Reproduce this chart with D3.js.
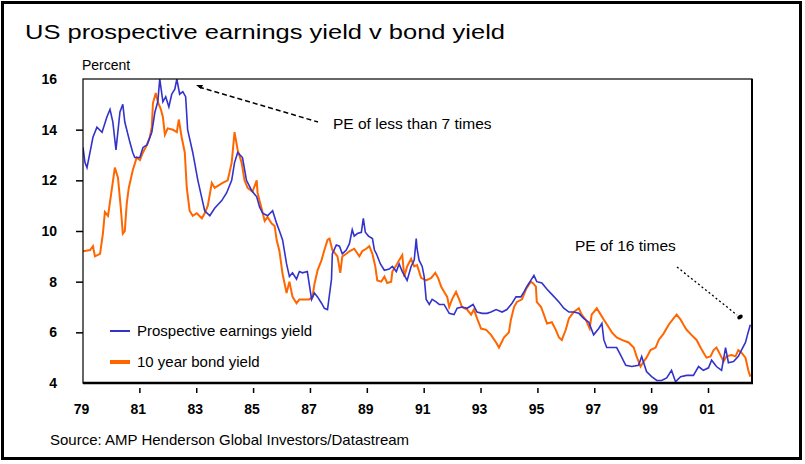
<!DOCTYPE html>
<html>
<head>
<meta charset="utf-8">
<script src="https://cdn.jsdelivr.net/npm/d3@7"></script>
<style>
  body { margin: 0; background: #fff; }
  text { font-family: "Liberation Sans", Arial, sans-serif; fill: #000; }
</style>
</head>
<body>
<svg id="chart"></svg>
<script>
const width = 805;
const height = 464;
const plot = {left: 83, right: 752, top: 79, bottom: 383};

const titleText = "US prospective earnings yield v bond yield";
const unitText = "Percent";
const sourceText = "Source: AMP Henderson Global Investors/Datastream";
const seriesNames = ["Prospective earnings yield", "10 year bond yield"];
const yTicks = [4, 6, 8, 10, 12, 14, 16];
const xTicks = [1979, 1981, 1983, 1985, 1987, 1989, 1991, 1993, 1995, 1997, 1999, 2001];

// prospective earnings yield (decimal years)
const earnYears = [1979.00,1979.07,1979.14,1979.35,1979.49,1979.67,1979.84,1979.95,1980.05,1980.16,
  1980.30,1980.40,1980.47,1980.65,1980.75,1980.82,1981.00,1981.11,1981.25,1981.42,
  1981.53,1981.63,1981.70,1981.81,1981.91,1982.02,1982.12,1982.23,1982.30,1982.40,
  1982.51,1982.61,1982.68,1982.86,1983.04,1983.18,1983.28,1983.46,1983.63,1983.88,
  1984.05,1984.23,1984.33,1984.44,1984.61,1984.75,1984.93,1985.11,1985.21,1985.32,
  1985.49,1985.67,1985.81,1985.91,1986.02,1986.16,1986.26,1986.37,1986.51,1986.61,
  1986.72,1986.89,1987.04,1987.14,1987.25,1987.39,1987.49,1987.60,1987.74,1987.77,
  1987.91,1988.02,1988.12,1988.26,1988.37,1988.47,1988.54,1988.65,1988.79,1988.86,
  1988.93,1989.04,1989.18,1989.25,1989.32,1989.46,1989.60,1989.77,1989.88,1990.02,
  1990.12,1990.23,1990.40,1990.54,1990.65,1990.72,1990.75,1990.82,1990.93,1991.00,
  1991.07,1991.18,1991.28,1991.42,1991.53,1991.70,1991.88,1992.05,1992.16,1992.33,
  1992.51,1992.72,1992.86,1993.04,1993.21,1993.35,1993.53,1993.74,1993.91,1994.09,
  1994.23,1994.40,1994.51,1994.61,1994.75,1994.86,1994.96,1995.14,1995.32,1995.49,
  1995.74,1995.91,1996.09,1996.26,1996.44,1996.61,1996.79,1996.96,1997.14,1997.25,
  1997.32,1997.42,1997.60,1997.77,1997.91,1998.09,1998.30,1998.54,1998.65,1998.82,
  1999.00,1999.18,1999.35,1999.53,1999.70,1999.84,2000.02,2000.23,2000.47,2000.65,
  2000.82,2001.00,2001.11,2001.28,2001.46,2001.60,2001.70,2001.88,2002.05,2002.16,
  2002.30,2002.37,2002.47];
const earnYield = [13.3,12.7,12.5,13.7,14.1,13.9,14.5,14.8,14.3,13.2,
  14.7,15.0,14.3,13.5,13.1,12.9,12.9,13.3,13.4,13.9,
  14.7,15.1,16.0,15.1,15.3,14.9,15.4,15.6,16.0,15.4,
  15.5,15.3,14.0,13.1,12.0,11.3,10.8,10.6,10.9,11.2,
  11.5,12.0,12.7,13.1,12.9,12.0,11.6,11.35,10.95,10.7,
  10.6,10.8,10.3,10.0,9.65,8.7,8.2,8.35,8.1,8.4,
  8.35,8.4,7.3,7.55,7.4,7.15,6.95,6.9,8.1,9.1,
  9.45,9.4,9.1,9.25,9.5,10.05,9.8,9.9,9.95,10.5,
  9.95,9.8,9.7,9.25,9.1,8.7,8.45,8.5,8.6,8.4,
  8.7,8.4,8.05,8.6,8.85,9.7,9.3,8.85,8.6,8.2,
  7.3,7.1,7.3,7.2,7.1,7.1,6.75,6.7,6.95,7.0,
  6.95,7.1,6.8,6.75,6.75,6.8,6.9,6.8,6.9,7.15,
  7.4,7.4,7.6,7.8,8.05,8.25,8.0,7.95,7.7,7.5,
  7.2,6.95,6.8,6.8,6.75,6.55,6.4,5.9,6.15,6.35,
  5.7,5.4,5.4,5.4,5.1,4.7,4.65,4.7,5.05,4.45,
  4.25,4.1,4.1,4.2,4.5,4.05,4.25,4.3,4.3,4.65,
  4.5,4.6,4.9,4.65,4.5,5.4,4.8,4.85,5.05,5.3,
  5.6,5.9,6.3];

// 10 year bond yield
const bondYears = [1979.00,1979.25,1979.35,1979.42,1979.60,1979.70,1979.77,1979.88,1980.02,1980.12,
  1980.23,1980.33,1980.40,1980.47,1980.54,1980.61,1980.75,1980.89,1981.00,1981.11,
  1981.25,1981.35,1981.42,1981.46,1981.56,1981.63,1981.74,1981.81,1981.88,1981.98,
  1982.16,1982.30,1982.37,1982.47,1982.58,1982.65,1982.75,1982.86,1983.00,1983.18,
  1983.28,1983.39,1983.53,1983.63,1983.91,1984.09,1984.23,1984.33,1984.44,1984.58,
  1984.68,1984.79,1984.96,1985.11,1985.14,1985.28,1985.39,1985.49,1985.63,1985.74,
  1985.81,1985.91,1986.02,1986.16,1986.26,1986.37,1986.51,1986.61,1986.79,1986.96,
  1987.07,1987.14,1987.25,1987.39,1987.49,1987.60,1987.67,1987.77,1987.95,1988.05,
  1988.12,1988.26,1988.37,1988.54,1988.72,1988.82,1988.96,1989.07,1989.18,1989.28,
  1989.35,1989.49,1989.60,1989.70,1989.84,1989.88,1990.02,1990.12,1990.23,1990.30,
  1990.40,1990.54,1990.65,1990.75,1990.89,1991.07,1991.25,1991.39,1991.49,1991.60,
  1991.70,1991.81,1991.88,1991.98,1992.12,1992.23,1992.33,1992.51,1992.65,1992.75,
  1992.86,1993.00,1993.18,1993.35,1993.53,1993.63,1993.81,1993.98,1994.05,1994.16,
  1994.26,1994.44,1994.58,1994.75,1994.82,1994.93,1994.96,1995.11,1995.21,1995.32,
  1995.49,1995.63,1995.74,1995.84,1995.98,1996.09,1996.26,1996.44,1996.54,1996.68,
  1996.82,1996.89,1997.07,1997.21,1997.32,1997.49,1997.60,1997.77,1997.95,1998.19,
  1998.37,1998.47,1998.61,1998.72,1998.82,1998.96,1999.14,1999.25,1999.42,1999.60,
  1999.77,1999.88,2000.02,2000.12,2000.23,2000.40,2000.58,2000.72,2000.82,2000.93,
  2001.07,2001.18,2001.28,2001.42,2001.53,2001.63,2001.81,2001.95,2002.05,2002.16,
  2002.30,2002.40,2002.47];
const bondYield = [9.2,9.25,9.4,9.0,9.1,9.9,10.75,10.6,11.7,12.5,
  12.1,10.9,9.9,10.0,11.1,11.7,12.4,12.9,12.8,13.1,
  13.4,13.7,14.1,15.05,15.45,15.1,14.8,14.5,13.8,14.05,
  14.0,13.9,14.4,13.7,13.1,11.7,10.8,10.6,10.7,10.5,
  10.7,11.0,11.9,11.7,11.9,12.0,12.7,13.9,13.2,12.7,
  12.0,11.7,11.55,12.0,11.5,10.9,10.4,10.55,10.3,10.2,
  9.65,9.2,8.3,7.55,8.0,7.4,7.15,7.3,7.3,7.3,
  7.4,7.9,8.45,8.85,9.25,9.65,9.7,9.25,9.0,8.35,
  9.0,9.1,9.2,9.3,9.0,9.2,9.3,9.4,9.1,8.6,
  8.05,8.0,8.2,7.95,8.0,8.4,8.65,8.85,9.05,8.2,
  8.6,8.9,8.6,8.65,8.15,8.05,8.15,8.35,8.15,7.8,
  7.6,7.4,7.0,7.3,7.6,7.3,7.0,6.9,6.7,6.9,
  6.55,6.15,6.1,5.9,5.6,5.4,5.8,6.0,6.5,7.0,
  7.2,7.3,7.7,8.0,7.95,7.8,7.2,7.0,6.7,6.35,
  6.4,6.1,5.8,5.7,6.1,6.55,6.8,6.95,6.7,6.5,
  6.15,6.7,6.95,6.7,6.5,6.2,6.0,5.8,5.7,5.6,
  5.4,5.05,4.65,4.85,5.0,5.3,5.4,5.7,5.95,6.3,
  6.55,6.7,6.5,6.3,6.1,5.9,5.7,5.4,5.2,5.0,
  5.05,5.3,5.4,5.1,4.85,5.05,5.1,5.05,5.3,5.2,
  5.0,4.5,4.25];

const BLUE = "#3333cc";
const ORANGE = "#ff6600";

const x = d3.scaleLinear([1979, 2002.53], [plot.left, plot.right]);
const y = d3.scaleLinear([4, 16], [plot.bottom, plot.top]);

const svg = d3.select("#chart")
    .attr("width", width)
    .attr("height", height)
    .attr("viewBox", [0, 0, width, height]);

svg.append("rect")
    .attr("x", 2.5).attr("y", 2.5)
    .attr("width", 798).attr("height", 456)
    .attr("fill", "#fff")
    .attr("stroke", "#000")
    .attr("stroke-width", 3);

svg.append("text")
    .attr("x", 25).attr("y", 39)
    .attr("font-size", "21px")
    .attr("textLength", 480)
    .attr("lengthAdjust", "spacingAndGlyphs")
    .text(titleText);

svg.append("text")
    .attr("x", 82).attr("y", 70)
    .attr("font-size", "14px")
    .text(unitText);

// y axis: tick marks sit outside the frame, labels further left
const yAxis = g => g
    .attr("transform", `translate(${plot.left},0)`)
    .call(d3.axisLeft(y).tickValues(yTicks).tickSize(7).tickPadding(19).tickFormat(d3.format("d")))
    .call(g => g.select(".domain").remove())
    .call(g => g.selectAll(".tick line").attr("stroke", "#000").attr("stroke-width", 1.5))
    .call(g => g.selectAll(".tick line").filter(d => d == 16 || d == 4).remove())
    .call(g => g.selectAll(".tick text")
        .attr("font-family", "Liberation Sans, Arial, sans-serif")
        .attr("font-size", "14px")
        .attr("font-weight", "bold"));

// x axis: labels only from the axis, short ticks drawn below the frame
const xAxis = g => g
    .attr("transform", `translate(0,${plot.bottom})`)
    .call(d3.axisBottom(x).tickValues(xTicks).tickSize(0).tickPadding(0)
        .tickFormat(d => String(d).slice(2)))
    .call(g => g.select(".domain").remove())
    .call(g => g.selectAll(".tick text")
        .attr("y", 21)
        .attr("dx", -2)
        .attr("font-family", "Liberation Sans, Arial, sans-serif")
        .attr("font-size", "14px")
        .attr("font-weight", "bold"));

svg.append("g").call(yAxis);
svg.append("g").call(xAxis);

svg.append("g").attr("id", "xTickMarks")
  .selectAll("line")
  .data(xTicks.filter(d => d > 1979))
  .join("line")
    .attr("x1", d => x(d)).attr("x2", d => x(d))
    .attr("y1", plot.bottom + 5).attr("y2", plot.bottom + 10)
    .attr("stroke", "#000")
    .attr("stroke-width", 1.5);

svg.append("defs").append("clipPath").attr("id", "plotClip")
  .append("rect")
    .attr("x", plot.left).attr("y", plot.top)
    .attr("width", plot.right - plot.left).attr("height", plot.bottom - plot.top);

const line = d3.line()
    .x(d => x(d[0]))
    .y(d => y(d[1]));

const lines = svg.append("g").attr("clip-path", "url(#plotClip)");

lines.append("path")
    .datum(d3.zip(bondYears, bondYield))
    .attr("fill", "none")
    .attr("stroke", ORANGE)
    .attr("stroke-width", 2)
    .attr("d", line);

lines.append("path")
    .datum(d3.zip(earnYears, earnYield))
    .attr("fill", "none")
    .attr("stroke", BLUE)
    .attr("stroke-width", 1.6)
    .attr("d", line);

// frame
svg.append("rect")
    .attr("x", plot.left).attr("y", plot.top)
    .attr("width", plot.right - plot.left).attr("height", plot.bottom - plot.top)
    .attr("fill", "none")
    .attr("stroke", "#000")
    .attr("stroke-width", 1.2);
svg.append("line")
    .attr("x1", plot.left).attr("x2", plot.right + 1)
    .attr("y1", plot.bottom).attr("y2", plot.bottom)
    .attr("stroke", "#000").attr("stroke-width", 2.5);
svg.append("line")
    .attr("x1", plot.right).attr("x2", plot.right)
    .attr("y1", plot.top).attr("y2", plot.bottom)
    .attr("stroke", "#000").attr("stroke-width", 2);

// legend
const legend = svg.append("g").attr("transform", "translate(110,331)");
[BLUE, ORANGE].forEach((c, i) => {
  legend.append("line")
      .attr("x1", 0).attr("x2", 20)
      .attr("y1", i * 31).attr("y2", i * 31)
      .attr("stroke", c)
      .attr("stroke-width", i == 0 ? 2 : 4);
  legend.append("text")
      .attr("x", 27).attr("y", i * 31)
      .attr("dy", "0.35em")
      .attr("font-size", "15px")
      .text(seriesNames[i]);
});

// annotations
svg.append("line")
    .attr("x1", 199).attr("y1", 87)
    .attr("x2", 318).attr("y2", 122)
    .attr("stroke", "#000")
    .attr("stroke-width", 1.5)
    .attr("stroke-dasharray", "5,3");
svg.append("path")
    .attr("d", "M196,85 l7,0 l-2,4 z")
    .attr("fill", "#000");
svg.append("text")
    .attr("x", 333).attr("y", 129)
    .attr("font-size", "15.5px")
    .text("PE of less than 7 times");

svg.append("line")
    .attr("x1", 677).attr("y1", 267)
    .attr("x2", 737).attr("y2", 315)
    .attr("stroke", "#000")
    .attr("stroke-width", 1.3)
    .attr("stroke-dasharray", "2,2.5");
svg.append("ellipse")
    .attr("cx", 740).attr("cy", 317)
    .attr("rx", 3).attr("ry", 2)
    .attr("transform", "rotate(-30 740 317)")
    .attr("fill", "#000");
svg.append("text")
    .attr("x", 575).attr("y", 251)
    .attr("font-size", "15.5px")
    .text("PE of 16 times");

svg.append("text")
    .attr("x", 50).attr("y", 445)
    .attr("font-size", "15px")
    .text(sourceText);
</script>
</body>
</html>
